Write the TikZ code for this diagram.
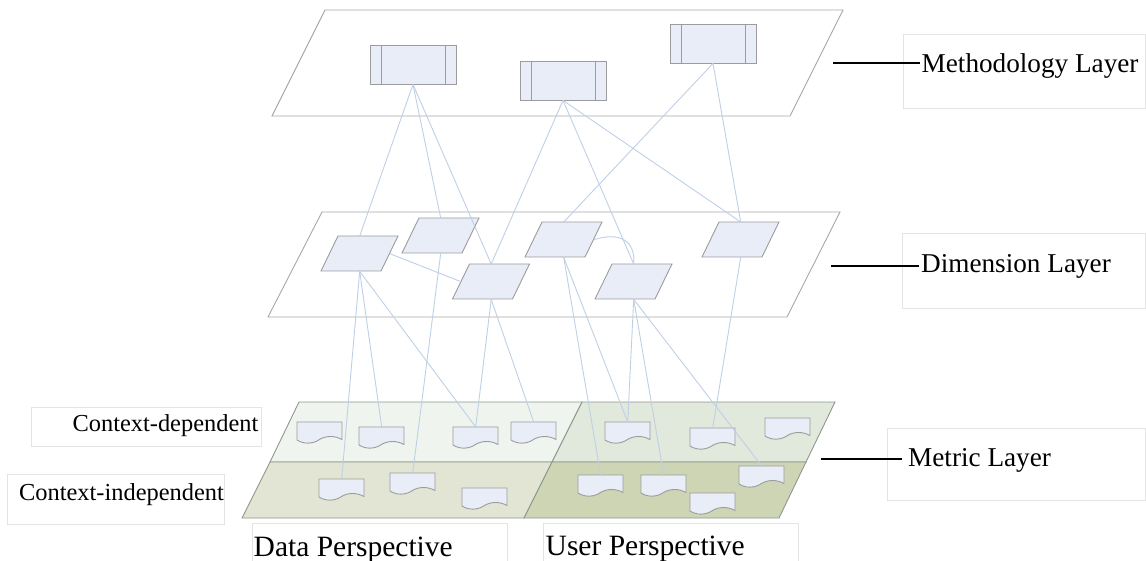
\documentclass[tikz,border=0pt]{standalone}
\usepackage{fontspec}
\setmainfont{Liberation Serif}
\definecolor{conn}{HTML}{BFD0E6}
\definecolor{planeline}{HTML}{A8A8A8}
\definecolor{boxfill}{HTML}{E8EDF7}
\definecolor{boxdraw}{HTML}{9C9C9C}
\definecolor{ulfill}{HTML}{EFF4EF}
\definecolor{urfill}{HTML}{E1E8DC}
\definecolor{llfill}{HTML}{E2E5D3}
\definecolor{lrfill}{HTML}{CDD5B5}
\definecolor{mdraw}{HTML}{8E988E}
\definecolor{lblline}{HTML}{E4E4E4}
\tikzset{
  plane/.style={draw=planeline, line width=0.9pt, fill=white},
  mquad/.style={draw=mdraw, line width=0.9pt},
  mbox/.style={draw=boxdraw, fill=boxfill, line width=0.9pt, minimum width=86pt, minimum height=39pt, inner sep=0pt,
    path picture={\draw[boxdraw, line width=0.9pt]
      ([xshift=11pt]path picture bounding box.north west) -- ([xshift=11pt]path picture bounding box.south west)
      ([xshift=-11pt]path picture bounding box.north east) -- ([xshift=-11pt]path picture bounding box.south east);}},
  pnode/.style={minimum width=77pt, minimum height=35pt, inner sep=0pt, anchor=north west},
  pshape/.style={draw=boxdraw, fill=boxfill, line width=0.9pt},
  docnode/.style={minimum width=45pt, minimum height=21.5pt, inner sep=0pt, anchor=north west},
  docshape/.style={draw=boxdraw, fill=boxfill, line width=0.9pt},
  link/.style={draw=conn, line width=0.9pt},
  tick/.style={draw=black, line width=1.6pt},
  lblbox/.style={draw=lblline, line width=0.9pt},
  txtL/.style={inner sep=0pt, font=\fontsize{27.2}{31}\selectfont},
  txtC/.style={inner sep=0pt, font=\fontsize{24.4}{28}\selectfont},
  txtP/.style={inner sep=0pt, font=\fontsize{29.5}{33}\selectfont},
}
\newcommand\mkpara[3]{%
  \node[pnode] (#1) at (#2,#3) {};
  \filldraw[pshape] ({#2+17},#3) -- ({#2+77},#3) -- ({#2+60},{#3+35}) -- (#2,{#3+35}) -- cycle;}
\newcommand\mkdoc[3]{%
  \node[docnode] (#1) at (#2,#3) {};
  \begin{scope}[shift={(#2,#3)}]
    \filldraw[docshape] (0,0) -- (45,0) -- (45,17.5) .. controls (38,13.5) and (29,13.5) .. (22.5,17.5)
      .. controls (16,22) and (7,22.5) .. (0,18) -- cycle;
  \end{scope}}
\begin{document}
\begin{tikzpicture}[x=1pt, y=-1pt]
\useasboundingbox (0,0) rectangle (1146,561);
% label boxes
\draw[lblbox] (903,34) rectangle (1145.5,108);
\draw[lblbox] (902,233) rectangle (1145.5,308);
\draw[lblbox] (887,428) rectangle (1145.5,500);
\draw[lblbox] (31,407) rectangle (261.5,446);
\draw[lblbox] (7,474) rectangle (224,524);
\draw[lblbox] (252.5,570) -- (252.5,523) -- (507,523) -- (507,570);
\draw[lblbox] (543,570) -- (543,523) -- (798,523) -- (798,570);
% planes
\draw[plane] (325,10) -- (843,10) -- (790,116) -- (272,116) -- cycle;
\draw[plane] (322,212) -- (840,212) -- (787,317) -- (268,317) -- cycle;
% metric layer
\filldraw[mquad, fill=ulfill] (299,402) -- (582,402) -- (552,462) -- (270,462) -- cycle;
\filldraw[mquad, fill=urfill] (582,402) -- (835,402) -- (806,462) -- (552,462) -- cycle;
\filldraw[mquad, fill=llfill] (270,462) -- (552,462) -- (524,518) -- (242,518) -- cycle;
\filldraw[mquad, fill=lrfill] (552,462) -- (806,462) -- (779,518) -- (524,518) -- cycle;
% methodology boxes
\node[mbox] (b1) at (413,64.5) {};
\node[mbox] (b2) at (563,80.5) {};
\node[mbox] (b3) at (713,43.5) {};
% dimension parallelograms
\mkpara{p1}{321}{236}
\mkpara{p2}{402}{218}
\mkpara{p3}{452.5}{264}
\mkpara{p4}{525}{222}
\mkpara{p5}{595}{264}
\mkpara{p6}{702}{222}
% metric documents
\mkdoc{d1}{297}{422}
\mkdoc{d2}{359}{427}
\mkdoc{d3}{453}{427}
\mkdoc{d4}{511}{422}
\mkdoc{d5}{605}{422}
\mkdoc{d6}{690}{428}
\mkdoc{d7}{765}{418}
\mkdoc{d8}{319}{479}
\mkdoc{d9}{390}{473}
\mkdoc{d10}{462}{488}
\mkdoc{d11}{578}{475}
\mkdoc{d12}{641}{475}
\mkdoc{d13}{739}{466}
\mkdoc{d14}{690}{493}
% connectors
\draw[link] (b1.south) -- (p1.north);
\draw[link] (b1.south) -- (p2.north);
\draw[link] (b1.south) -- (p3.north);
\draw[link] (b2.south) -- (p3.north);
\draw[link] (b2.south) -- (p5.north);
\draw[link] (b2.south) -- (p6.north);
\draw[link] (b3.south) -- (p4.north);
\draw[link] (b3.south) -- (p6.north);
\draw[link] ([xshift=-8.5pt]p1.east) -- ([xshift=8.5pt]p3.west);
\draw[link] ([xshift=-8.5pt]p4.east) .. controls +(25,-8) and +(2,-24) .. (p5.north);
\draw[link] (p1.south) -- (d8.north);
\draw[link] (p1.south) -- (d2.north);
\draw[link] (p1.south) -- (d3.north);
\draw[link] (p2.south) -- (d9.north);
\draw[link] (p3.south) -- (d3.north);
\draw[link] (p3.south) -- (d4.north);
\draw[link] (p4.south) -- (d11.north);
\draw[link] (p4.south) -- (d5.north);
\draw[link] (p5.south) -- (d5.north);
\draw[link] (p5.south) -- (d12.north);
\draw[link] (p5.south) -- (d13.north);
\draw[link] (p6.south) -- (d6.north);
% layer labels
\node[txtL, anchor=base west] (tmeth) at (921.5,72.3) {Methodology Layer};
\node[txtL, anchor=base west] (tdim) at (921,272.7) {Dimension Layer};
\node[txtL, anchor=base west] (tmet) at (908,466.7) {Metric Layer};
\node[txtC, anchor=base east] (tcd) at (258.5,431.5) {Context-dependent};
\node[txtC, anchor=base west] (tci) at (19,500) {Context-independent};
\node[txtP, anchor=base west] (tdp) at (253.5,556.7) {Data Perspective};
\node[txtP, anchor=base west] (tup) at (545.5,555.5) {User Perspective};
% pointer lines
\coordinate (m1) at (833,63); \coordinate (m2) at (920,63);
\coordinate (n1) at (831,266); \coordinate (n2) at (919,266);
\coordinate (k1) at (821,459); \coordinate (k2) at (902,459);
\draw[tick] (m1) -- (m2);
\draw[tick] (n1) -- (n2);
\draw[tick] (k1) -- (k2);
\end{tikzpicture}
\end{document}
